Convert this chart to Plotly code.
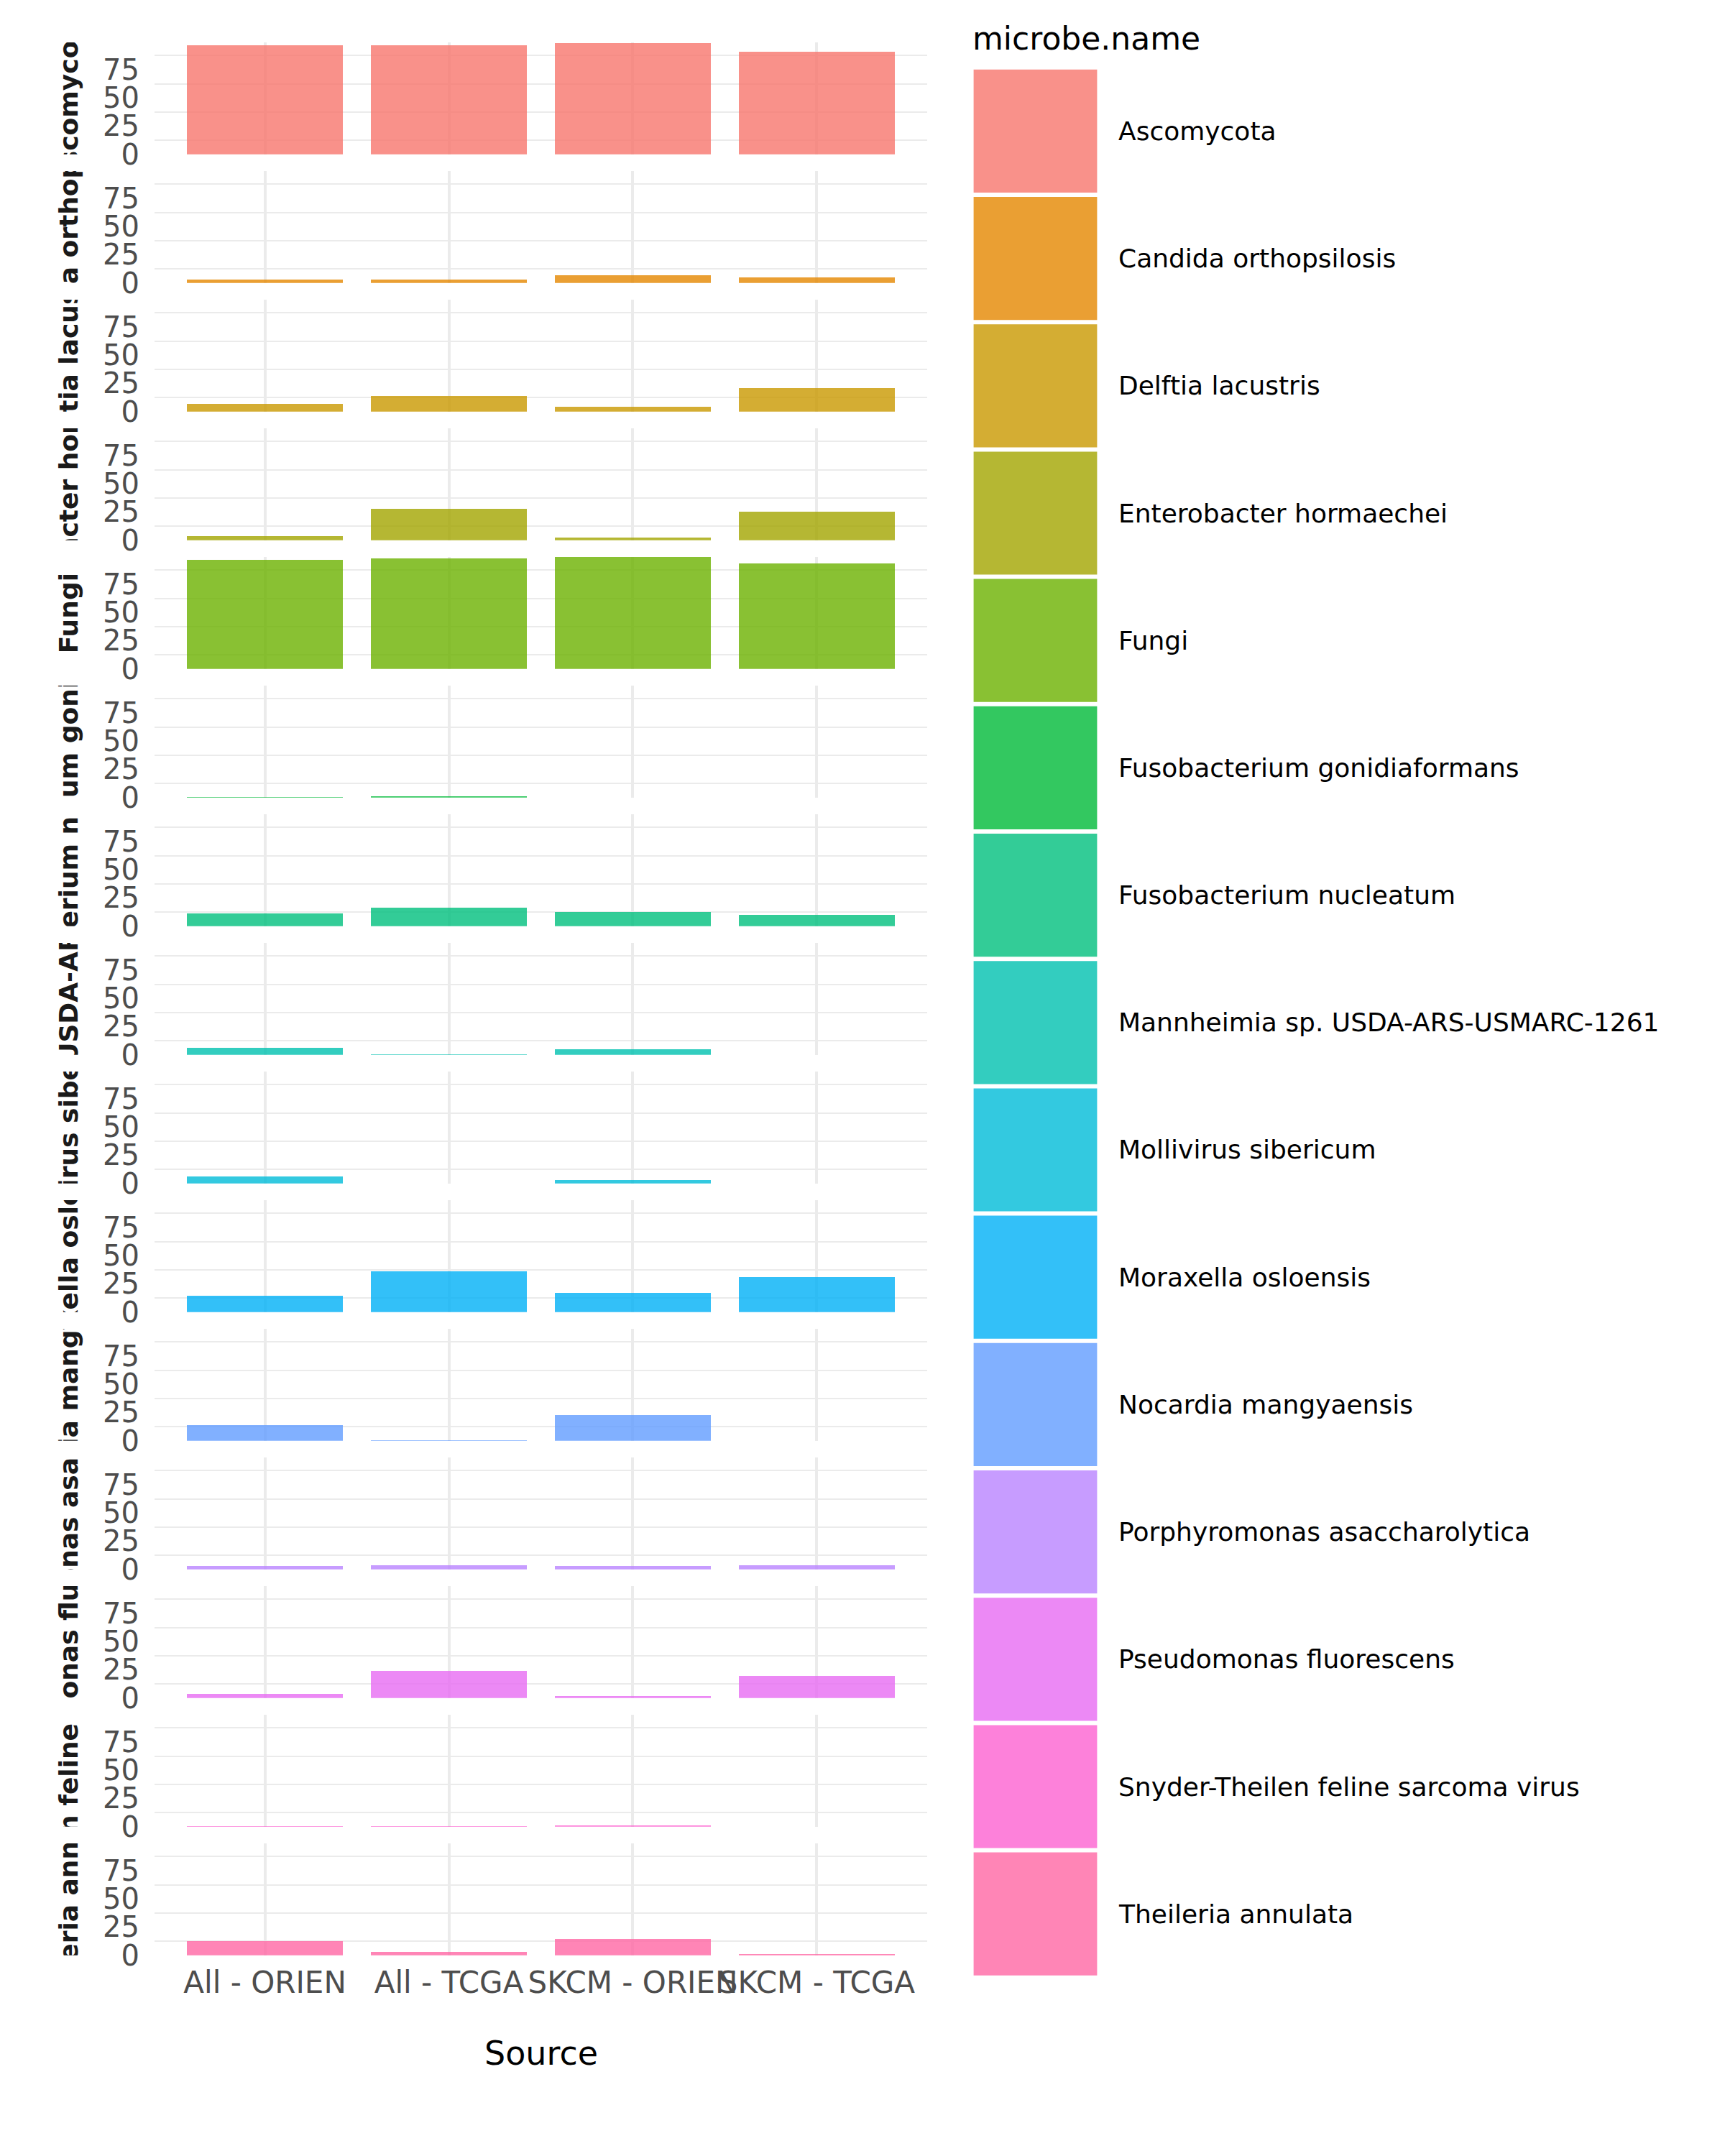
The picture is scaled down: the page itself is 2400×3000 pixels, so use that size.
import plotly.graph_objects as go

# ---------------- data ----------------
microbes = [
    "Ascomycota",
    "Candida orthopsilosis",
    "Delftia lacustris",
    "Enterobacter hormaechei",
    "Fungi",
    "Fusobacterium gonidiaformans",
    "Fusobacterium nucleatum",
    "Mannheimia sp. USDA-ARS-USMARC-1261",
    "Mollivirus sibericum",
    "Moraxella osloensis",
    "Nocardia mangyaensis",
    "Porphyromonas asaccharolytica",
    "Pseudomonas fluorescens",
    "Snyder-Theilen feline sarcoma virus",
    "Theileria annulata",
]
sources = ["All - ORIEN", "All - TCGA", "SKCM - ORIEN", "SKCM - TCGA"]

all_orien = [96.7, 3.2, 6.5, 3.9, 96.5, 0.6, 11.4, 6.2, 6.2, 14.6, 13.9, 3.2, 3.6, 0.7, 12.7]
all_tcga = [96.4, 3.0, 13.9, 27.6, 97.8, 1.0, 16.5, 0.4, None, 36.3, 0.6, 3.9, 23.7, 0.15, 2.9]
skcm_orien = [98.3, 6.5, 4.5, 2.3, 99.0, None, 12.7, 4.9, 2.9, 16.9, 23.0, 2.9, 1.9, 1.2, 14.4]
skcm_tcga = [90.6, 4.9, 20.8, 25.3, 93.3, None, 9.7, None, None, 31.2, None, 3.9, 19.5, None, 1.0]

palette = ["#F8766D", "#E58700", "#C99800", "#A3A500", "#6BB100", "#00BA38", "#00BF7D",
           "#00C0AF", "#00BCD8", "#00B0F6", "#619CFF", "#B983FF", "#E76BF3", "#FD61D1", "#FF67A4"]

y_tick_vals = [0, 25, 50, 75]
y_tick_text = ["0", "25", "50", "75"]
y_minor_vals = [12.5, 37.5, 62.5, 87.5]
y_max = 99.0

legend_title = "microbe.name"
x_title = "Source"

# ---------------- geometry (pixels) ----------------
W, H = 2400, 3000
PANEL_L, PANEL_R = 215, 1290
FIRST_BOTTOM = 214.8
PITCH = 179.0
PANEL_H = 155.7
STRIP_L, STRIP_R = 61, 130
KEY_L, KEY_R = 1354.6, 1526.4
KEY_TOP0, KEY_PITCH, KEY_H = 96.8, 177.2, 171.2
LABEL_X = 1554
FONT = "DejaVu Sans"
GRID = "#EBEBEB"


def fx(p):
    return p / W


def fy(p):
    return 1 - p / H


def rgba(hx, a=0.8):
    hx = hx.lstrip("#")
    r, g, b = int(hx[0:2], 16), int(hx[2:4], 16), int(hx[4:6], 16)
    return f"rgba({r},{g},{b},{a})"


fig = go.Figure()
layout = {}
n_panels = len(microbes)

for i, name in enumerate(microbes):
    n = i + 1
    bottom = FIRST_BOTTOM + PITCH * i
    top = bottom - PANEL_H
    vals = [all_orien[i], all_tcga[i], skcm_orien[i], skcm_tcga[i]]
    xs = "x" if n == 1 else f"x{n}"
    ys = "y" if n == 1 else f"y{n}"
    xk = "xaxis" if n == 1 else f"xaxis{n}"
    yk = "yaxis" if n == 1 else f"yaxis{n}"

    fig.add_trace(go.Bar(
        x=sources, y=vals, width=0.85,
        marker=dict(color=rgba(palette[i]), line=dict(width=0)),
        xaxis=xs, yaxis=ys, showlegend=False, name=name,
    ))
    layout[xk] = dict(
        domain=[fx(PANEL_L), fx(PANEL_R)], anchor=ys, type="category",
        categoryorder="array", categoryarray=sources, range=[-0.6, 3.6],
        showgrid=True, gridcolor=GRID, gridwidth=4, zeroline=False, showline=False,
        ticks="", showticklabels=(n == n_panels), ticklabelstandoff=9, tickangle=0,
        automargin=False,
        tickfont=dict(family=FONT, size=42, color="#4D4D4D"), fixedrange=True,
    )
    layout[yk] = dict(
        domain=[fy(bottom), fy(top)], anchor=xs, range=[0, y_max],
        tickmode="array", tickvals=y_tick_vals, ticktext=y_tick_text,
        showgrid=False, zeroline=False, showline=False, ticks="",
        ticklabelstandoff=20, automargin=False,
        minor=dict(tickmode="array", tickvals=y_minor_vals, showgrid=True,
                   gridcolor=GRID, gridwidth=2, ticks=""),
        tickfont=dict(family=FONT, size=40, color="#4D4D4D"), fixedrange=True,
    )

    # strip label (clipped to strip area via bar text + cliponaxis)
    m = n + n_panels
    sxs, sys_ = f"x{m}", f"y{m}"
    fig.add_trace(go.Bar(
        x=[0], y=[1], width=[1], text=[name], textposition="inside",
        insidetextanchor="middle", textangle=-90, constraintext="none",
        textfont=dict(family=FONT, size=36, color="#1A1A1A", weight="bold"),
        marker=dict(color="rgba(0,0,0,0)", line=dict(width=0)),
        cliponaxis=True, hoverinfo="skip", showlegend=False,
        xaxis=sxs, yaxis=sys_,
    ))
    layout[f"xaxis{m}"] = dict(domain=[fx(STRIP_L), fx(STRIP_R)], anchor=sys_,
                               range=[-0.5, 0.5], visible=False, fixedrange=True,
                               automargin=False)
    layout[f"yaxis{m}"] = dict(domain=[fy(bottom), fy(top)], anchor=sxs,
                               range=[0, 1], visible=False, fixedrange=True,
                               automargin=False)

# ---------------- legend (drawn manually) ----------------
shapes = []
annotations = []
for i, name in enumerate(microbes):
    t = KEY_TOP0 + KEY_PITCH * i
    shapes.append(dict(type="rect", xref="paper", yref="paper",
                       x0=fx(KEY_L), x1=fx(KEY_R), y0=fy(t + KEY_H), y1=fy(t),
                       fillcolor=rgba(palette[i]), line=dict(width=0)))
    annotations.append(dict(text=name, xref="paper", yref="paper",
                            x=fx(LABEL_X), y=fy(t + KEY_H / 2), xanchor="left",
                            yanchor="middle", showarrow=False,
                            font=dict(family=FONT, size=36, color="#000000")))

annotations.append(dict(text=legend_title, xref="paper", yref="paper",
                        x=fx(1351), y=fy(53.8), xanchor="left", yanchor="middle",
                        showarrow=False, font=dict(family=FONT, size=44, color="#000000")))
annotations.append(dict(text=x_title, xref="paper", yref="paper",
                        x=fx((PANEL_L + PANEL_R) / 2), y=fy(2856.8), xanchor="center",
                        yanchor="middle", showarrow=False,
                        font=dict(family=FONT, size=46, color="#000000")))

fig.update_layout(
    width=W, height=H, margin=dict(l=0, r=0, t=0, b=0, pad=0, autoexpand=False),
    paper_bgcolor="white", plot_bgcolor="white",
    showlegend=False, barmode="overlay", bargap=0,
    shapes=shapes, annotations=annotations,
    font=dict(family=FONT),
    **layout,
)

fig.write_html("out.html")
